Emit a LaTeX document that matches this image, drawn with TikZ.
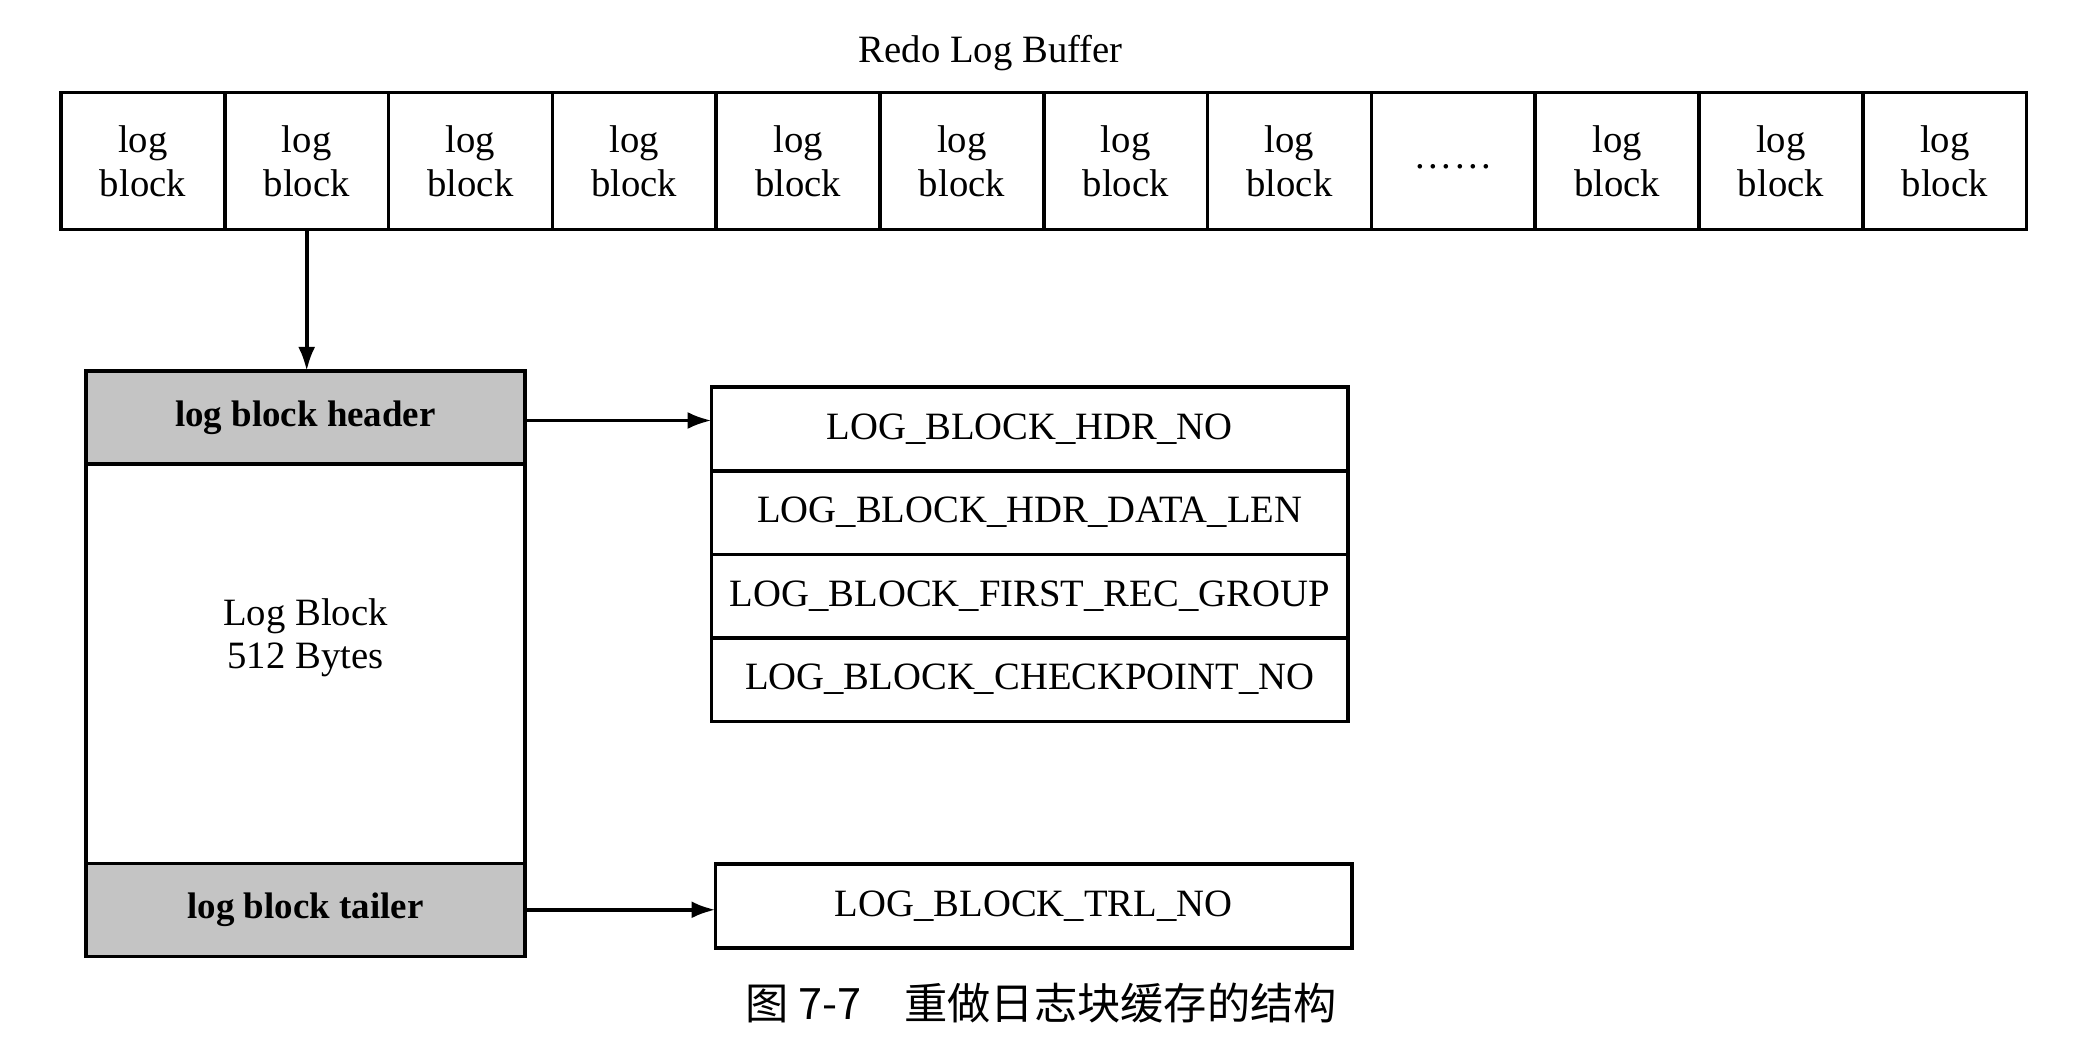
\documentclass[tikz,border=0pt]{standalone}
\usepackage{fontspec}
\setmainfont{Liberation Serif}
\newfontfamily\cjk{Noto Sans CJK SC}
\usetikzlibrary{positioning,arrows.meta}

\begin{document}
\begin{tikzpicture}[x=0.01cm, y=-0.01cm,
		cell/.style={draw, line width=1pt, minimum width=1.638cm, minimum height=1.365cm, align=center, inner sep=0pt, outer sep=0pt, font=\fontsize{11}{12.4}\selectfont},
		part/.style={draw, line width=1pt, minimum width=4.39cm, inner sep=0pt, outer sep=0pt, align=center},
		shade/.style={part, fill=black!23, minimum height=0.93cm, font=\fontsize{10.5}{12}\selectfont\bfseries},
		field/.style={draw, line width=1pt, minimum width=6.36cm, minimum height=0.835cm, inner sep=0pt, outer sep=0pt, font=\fontsize{11}{12}\selectfont},
		link/.style={line width=1.1pt, -{Latex[length=2.4mm,width=1.7mm]}}]
		\useasboundingbox (0,0) rectangle (2078,1052);

		\node[font=\fontsize{11}{12}\selectfont] (title) at (990.7, 53) {Redo Log Buffer};

		\foreach \i in {1,...,8,10,11,12}
			\node[cell] (b\i) at ({61+163.8*(\i-0.5)}, 161) {log\\block};
		\node[cell, text height=0.9ex, text depth=0pt] (b9) at ({61+163.8*8.5}, 161) {.\kern1pt.\kern1pt.\kern1pt.\kern1pt.\kern1pt.};

		\node[shade] (header) at (305.5, 417.5) {log block header};
		\node[part, minimum height=3.99cm, below=0pt of header] (body) {};
		\node[shade, below=0pt of body] (tailer) {log block tailer};
		\node[align=center, font=\fontsize{11}{12.4}\selectfont] (size) at ([yshift=0.26cm]body.center) {Log Block\\512 Bytes};

		\node[field] (hdrno) at (1029.8, 429) {LOG\_BLOCK\_HDR\_NO};
		\node[field, below=0pt of hdrno] (datalen) {LOG\_BLOCK\_HDR\_DATA\_LEN};
		\node[field, below=0pt of datalen] (firstrec) {LOG\_BLOCK\_FIRST\_REC\_GROUP};
		\node[field, below=0pt of firstrec] (ckptno) {LOG\_BLOCK\_CHECKPOINT\_NO};

		\node[field] (trlno) at (1033.7, 906) {LOG\_BLOCK\_TRL\_NO};

		\draw[link] (b2.south) -- (b2.south |- header.north);
		\draw[link] ([yshift=-0.03cm]header.east) -- ([yshift=-0.03cm]header.east -| hdrno.west);
		\draw[link] (tailer.east) -- (tailer.east -| trlno.west);

		\node[font=\cjk\fontsize{12.3}{14}\selectfont] (caption) at (1041, 1003) {图 7-7\hspace{1em}重做日志块缓存的结构};
	\end{tikzpicture}
\end{document}
